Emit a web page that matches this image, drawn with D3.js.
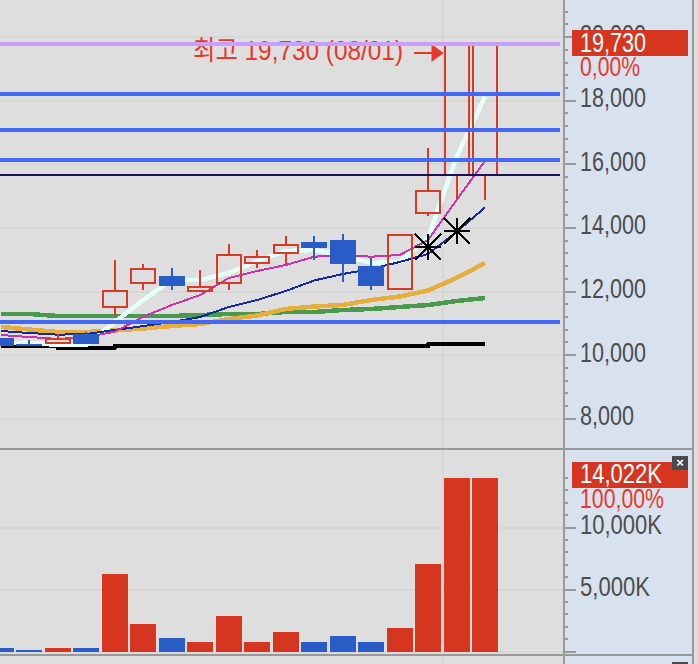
<!DOCTYPE html>
<html>
<head>
<meta charset="utf-8">
<script src="https://cdn.jsdelivr.net/npm/d3@7"></script>
<style>
  html, body { margin: 0; padding: 0; background: #dedede; overflow: hidden; }
  text { font-family: "Liberation Sans", "Noto Sans CJK KR", sans-serif; font-size: 27px; }
</style>
</head>
<body>
<div id="my_dataviz"></div>
<script>
// data
var sessions = ["1","2","3","4","5","6","7","8","9","10","11","12","13","14","15","16","17","18"];
var opens  = [10528,10346,10349,10663,11481,12236,12487,11984,12236,12865,13179,13557,13619,12802,12047,14437,15633,15633];
var closes = [10286,10286,10531,10349,12047,12739,12173,12173,13179,13116,13494,13368,12865,12173,13808,15192,19783,19783];
var highs  = [10528,10475,10663,10726,12991,12865,12739,12676,13494,13305,13745,13745,13808,13053,13808,16513,19783,19783];
var lows   = [10286,10286,10349,10349,11230,12047,12047,11984,12047,12739,12865,12991,12299,12047,12047,14374,14877,14877];
var volumes = [282,121,282,282,6250,2218,1089,766,2863,766,1573,766,1250,766,1895,7056,14022,14022];

var maWhite   = [10381,10390,10318,10318,11041,11733,12362,12362,12582,12959,13274,13305,13148,12896,12928,13683,16230,18116];
var maMagenta = [10632,10569,10506,10569,10736,11208,11575,11890,12425,12645,12833,13094,13148,13094,13148,13619,14877,16104];
var maNavy    = [10758,10695,10642,10664,10789,10915,11041,11198,11513,11733,12016,12346,12550,12708,12928,13179,13871,14642];
var maOrange  = [10884,10805,10726,10726,10774,10837,10915,10978,11135,11245,11450,11528,11575,11733,11843,12032,12425,12896];
var maGreen   = [11292,11292,11230,11230,11230,11230,11230,11261,11292,11292,11355,11355,11418,11450,11513,11575,11701,11796];
var maBlack   = [10286,10286,10223,10223,10286,10286,10286,10286,10286,10286,10286,10286,10286,10286,10286,10349,10349,10349];

var blueLevels = [18211,17079,16135,11041];
var navyLevel = 15664;
var highLevel = 19783;
var starSessions = ["16","17"];
var starValues = [13409,13912];

var priceTicks = [8000,10000,12000,14000,16000,18000,20000];
var volumeTicks = [0,5000,10000];
var highLabel = "최고 19,730 (08/01)";

var width = 698, height = 664;
var plotRight = 563, paneRight = 693, dividerY = 449, bottomY = 655;

var svg = d3.select("#my_dataviz").append("svg")
    .attr("width", width)
    .attr("height", height)
    .style("display", "block");

// scales
var x = d3.scalePoint().domain(sessions).range([1, 485]).round(false);
var y = d3.scaleLinear().domain([8000, 18000]).range([418.7, 100.7]);
var yVol = d3.scaleLinear().domain([0, 10000]).range([651.5, 527.5]);

// the reference font is a narrow bitmap one, so squeeze labels to its widths
function labelLength(s) {
    var n = 0;
    s.split("").forEach(function(c) {
        n += c === "," ? 6 : c === "K" ? 16 : c === "%" ? 18 : 12;
    });
    return n;
}

// backgrounds
svg.append("rect").attr("width", width).attr("height", height).attr("fill", "#dedede");
svg.append("rect").attr("x", plotRight).attr("width", paneRight - plotRight).attr("height", height).attr("fill", "#d8e2ee");

// grid
var grid = svg.append("g").attr("stroke", "#d7d7d7").attr("stroke-width", 2).attr("shape-rendering", "crispEdges");
priceTicks.forEach(function(t) {
    grid.append("line").attr("x1", 0).attr("x2", plotRight).attr("y1", y(t)).attr("y2", y(t));
});
volumeTicks.forEach(function(t) {
    grid.append("line").attr("x1", 0).attr("x2", plotRight).attr("y1", yVol(t)).attr("y2", yVol(t));
});
grid.append("line").attr("x1", 443).attr("x2", 443).attr("y1", 0).attr("y2", height);

// high label, drawn before the purple line so the line runs over its top
svg.append("text")
    .attr("x", 193).attr("y", 60)
    .attr("textLength", 210).attr("lengthAdjust", "spacingAndGlyphs")
    .attr("fill", "#e8382a")
    .text(highLabel);

var arrowX = x("17") - 13, arrowY = 53;
svg.append("line").attr("x1", arrowX - 30).attr("x2", arrowX - 8)
    .attr("y1", arrowY).attr("y2", arrowY)
    .attr("stroke", "#e8382a").attr("stroke-width", 2).attr("shape-rendering", "crispEdges");
svg.append("path")
    .attr("d", d3.line()([[arrowX, arrowY], [arrowX - 12, arrowY - 9], [arrowX - 12, arrowY + 9]]) + "Z")
    .attr("fill", "#e8382a");

// moving averages
function drawLine(values, color, w, curve) {
    var line = d3.line()
        .x(function(d, i) { return x(sessions[i]); })
        .y(function(d) { return y(d); })
        .curve(curve || d3.curveLinear);
    svg.append("path")
        .attr("d", line(values))
        .attr("fill", "none")
        .attr("stroke", color)
        .attr("stroke-width", w)
        .attr("stroke-linejoin", "round")
        .attr("shape-rendering", "crispEdges");
}
drawLine(maBlack, "#000000", 4, d3.curveStepAfter);
drawLine(maGreen, "#4a9a4e", 4.5);
drawLine(maOrange, "#e6ae3c", 4.5);
drawLine(maWhite, "#e4fefa", 4.5);
drawLine(maNavy, "#1428a0", 2);
drawLine(maMagenta, "#cc33aa", 2);

// candles
var red = "#d93a25", blue = "#2a5cc8";
var candles = svg.append("g").attr("shape-rendering", "crispEdges");
sessions.forEach(function(s, i) {
    var up = closes[i] >= opens[i];
    var color = up ? red : blue;
    var cx = Math.round(x(s));
    var top = Math.round(y(Math.max(opens[i], closes[i]))), bot = Math.round(y(Math.min(opens[i], closes[i])));
    candles.append("line")
        .attr("x1", cx).attr("x2", cx)
        .attr("y1", y(highs[i])).attr("y2", top)
        .attr("stroke", color).attr("stroke-width", 2);
    candles.append("line")
        .attr("x1", cx).attr("x2", cx)
        .attr("y1", bot).attr("y2", y(lows[i]))
        .attr("stroke", color).attr("stroke-width", 2);
    if (up) {
        candles.append("rect")
            .attr("x", cx - 12).attr("width", 24)
            .attr("y", top + 1).attr("height", bot - top - 2)
            .attr("fill", "none").attr("stroke", color).attr("stroke-width", 2);
    } else {
        candles.append("rect")
            .attr("x", cx - 13).attr("width", 26)
            .attr("y", top).attr("height", bot - top)
            .attr("fill", color);
    }
});

// horizontal levels
function drawLevel(v, color, w) {
    svg.append("line")
        .attr("x1", 0).attr("x2", 560)
        .attr("y1", y(v)).attr("y2", y(v))
        .attr("stroke", color).attr("stroke-width", w)
        .attr("shape-rendering", "crispEdges");
}
blueLevels.forEach(function(v) { drawLevel(v, "#4169f5", 4); });
drawLevel(navyLevel, "#1a1060", 2);
drawLevel(highLevel, "#c8a0f8", 4);

// stars: arms reach the corners of a square, not a circle
starSessions.forEach(function(s, i) {
    var star = svg.append("g").attr("transform", "translate(" + Math.round(x(s)) + "," + Math.round(y(starValues[i])) + ")");
    [[1,0],[1,1],[0,1],[-1,1],[-1,0],[-1,-1],[0,-1],[1,-1]].forEach(function(k) {
        star.append("line")
            .attr("x2", 13 * k[0]).attr("y2", 13 * k[1])
            .attr("stroke", "#000").attr("stroke-width", 2)
            .attr("shape-rendering", "crispEdges");
    });
    star.append("circle").attr("r", 3).attr("fill", "#000");
});

// volume bars
svg.append("g").selectAll("rect")
    .data(volumes)
    .enter()
    .append("rect")
    .attr("x", function(d, i) { return Math.round(x(sessions[i])) - 13; })
    .attr("width", 26)
    .attr("y", function(d) { return yVol(d); })
    .attr("height", function(d) { return 652 - yVol(d); })
    .attr("fill", function(d, i) { return closes[i] >= opens[i] ? "#d63520" : blue; })
    .attr("shape-rendering", "crispEdges");

// axes
function styleAxis(g) {
    g.select(".domain").remove();
    g.selectAll("line").attr("stroke", "#999").attr("stroke-width", 2).attr("shape-rendering", "crispEdges");
    g.selectAll("text")
        .attr("dy", 6.5)
        .attr("fill", "#4d4d4d")
        .style("font-size", "27px")
        .each(function() {
            var s = d3.select(this).text();
            if (s) d3.select(this).attr("textLength", labelLength(s)).attr("lengthAdjust", "spacingAndGlyphs");
        });
}
var priceMinor = d3.range(8400, 21000, 400).filter(function(v) { return v % 2000 !== 0; });
var volumeMinor = d3.range(0, 14001, 1000).filter(function(v) { return v % 5000 !== 0; });
var axisG = svg.append("g").attr("transform", "translate(" + plotRight + ",0)");

axisG.append("g").call(d3.axisRight(y).offset(0).tickValues(priceMinor).tickSize(5).tickFormat("")).call(styleAxis);
axisG.append("g").call(d3.axisRight(y).offset(0).tickValues(priceTicks).tickSize(13).tickPadding(4).tickFormat(d3.format(","))).call(styleAxis);
axisG.append("g").call(d3.axisRight(yVol).offset(0).tickValues(volumeMinor).tickSize(5).tickFormat("")).call(styleAxis);
axisG.append("g").call(d3.axisRight(yVol).offset(0).tickValues(volumeTicks).tickSize(13).tickPadding(4)
    .tickFormat(function(d) { return d ? d3.format(",")(d) + "K" : ""; })).call(styleAxis);

// frame
var frame = svg.append("g").attr("stroke", "#999").attr("stroke-width", 2).attr("shape-rendering", "crispEdges");
frame.append("line").attr("x1", plotRight + 1).attr("x2", plotRight + 1).attr("y1", 0).attr("y2", height);
frame.append("line").attr("x1", paneRight).attr("x2", paneRight).attr("y1", 0).attr("y2", height);
frame.append("line").attr("x1", 0).attr("x2", paneRight).attr("y1", dividerY).attr("y2", dividerY);
frame.append("line").attr("x1", 0).attr("x2", paneRight).attr("y1", bottomY).attr("y2", bottomY);

// current value badges
function fitted(xPos, yPos, s, color) {
    svg.append("text").attr("x", xPos).attr("y", yPos).attr("fill", color)
        .attr("textLength", labelLength(s)).attr("lengthAdjust", "spacingAndGlyphs").text(s);
}
function badge(top, value, pct, baseline, pctBaseline) {
    svg.append("rect").attr("x", 572).attr("y", top).attr("width", 116).attr("height", 26).attr("fill", "#d63520");
    fitted(580, baseline, value, "#fff");
    fitted(580, pctBaseline, pct, "#e8382a");
}
badge(30, "19,730", "0,00%", 52, 76);
badge(462, "14,022K", "100,00%", 483, 508);

// small panel buttons
[456, 662].forEach(function(top) {
    svg.append("rect").attr("x", 672).attr("y", top).attr("width", 16).attr("height", 14).attr("fill", "#4a4a4a");
});
svg.append("text").attr("x", 680).attr("y", 467).attr("text-anchor", "middle")
    .attr("fill", "#fff").style("font-size", "13px").style("font-weight", "bold").text("×");
</script>
</body>
</html>
